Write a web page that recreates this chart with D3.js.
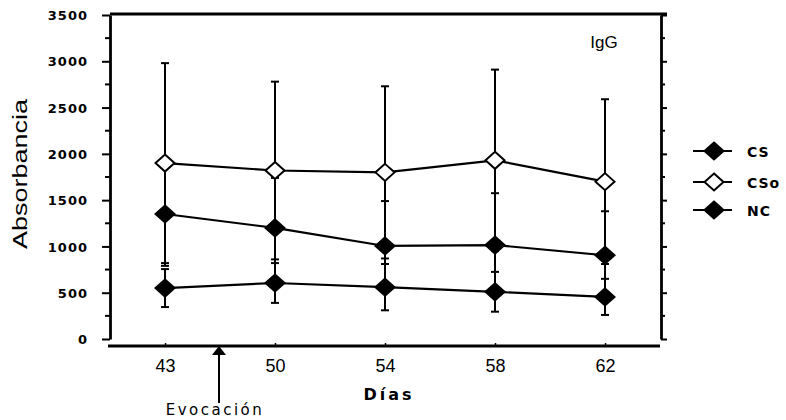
<!DOCTYPE html>
<html>
<head>
<meta charset="utf-8">
<script src="https://cdn.jsdelivr.net/npm/d3@7/dist/d3.min.js"></script>
<style>
  body { margin: 0; background: #fff; }
  svg { display: block; }
</style>
</head>
<body>
<svg id="chart" width="786" height="420"></svg>
<script>
const days = ['43', '50', '54', '58', '62'];
const yTicks = [0, 500, 1000, 1500, 2000, 2500, 3000, 3500];
const yMinor = [250, 750, 1250, 1750, 2250, 2750, 3250];

const csMean = [1350, 1200, 1005, 1015, 905];
const csSd = [560, 540, 485, 560, 475];
const csoMean = [1900, 1820, 1800, 1930, 1700];
const csoSd = [1080, 960, 930, 980, 890];
const ncMean = [550, 605, 560, 510, 455];
const ncSd = [205, 215, 250, 215, 195];

const seriesNames = ['CS', 'CSo', 'NC'];
const seriesFill = ['#000', '#fff', '#000'];

const series = [
  { name: seriesNames[0], mean: csMean, sd: csSd, fill: seriesFill[0] },
  { name: seriesNames[1], mean: csoMean, sd: csoSd, fill: seriesFill[1] },
  { name: seriesNames[2], mean: ncMean, sd: ncSd, fill: seriesFill[2] },
];

const diamond = 'M0,-8.5L9.5,0L0,8.5L-9.5,0Z';

let drawChart = (svg) => {
  const x = d3.scalePoint()
    .domain(days)
    .range([165, 605]);

  const y = d3.scaleLinear()
    .domain([0, 3500])
    .range([339, 15]);

  // top border line
  svg.append('line')
      .attr('stroke', '#000')
      .attr('stroke-width', 2.8)
      .attr('x1', 110).attr('x2', 667)
      .attr('y1', 14).attr('y2', 14);

  // left axis
  const left = svg.append('g')
      .attr('transform', 'translate(110,0)')
      .call(d3.axisLeft(y)
        .tickValues(yTicks)
        .tickSize(8)
        .tickSizeOuter(0)
        .tickFormat(d3.format('d')));
  left.select('.domain').attr('stroke-width', 2.8);
  left.selectAll('.tick line').attr('stroke-width', 2);
  left.selectAll('.tick text')
      .attr('x', -22)
      .attr('dy', '0.36em')
      .style('font-family', '"DejaVu Sans"')
      .style('font-weight', 'bold')
      .style('font-size', '13px')
      .style('letter-spacing', '1px');

  left.selectAll('.minor')
    .data(yMinor)
    .join('line')
      .attr('class', 'minor')
      .attr('stroke', '#000')
      .attr('stroke-width', 2)
      .attr('x1', -5).attr('x2', 0)
      .attr('y1', d => y(d)).attr('y2', d => y(d));

  // right axis
  const right = svg.append('g')
      .attr('transform', 'translate(661,0)')
      .call(d3.axisRight(y).tickValues(yTicks).tickSize(6).tickSizeOuter(0).tickFormat(''));
  right.select('.domain').attr('stroke-width', 2.8);
  right.selectAll('.tick line').attr('stroke-width', 2);
  right.selectAll('.minor')
    .data(yMinor)
    .join('line')
      .attr('class', 'minor')
      .attr('stroke', '#000')
      .attr('stroke-width', 2)
      .attr('x1', 0).attr('x2', 4)
      .attr('y1', d => y(d)).attr('y2', d => y(d));

  // x axis
  const bottom = svg.append('g')
      .attr('transform', 'translate(0,346)')
      .call(d3.axisTop(x).tickSize(3).tickSizeOuter(0));
  bottom.select('.domain')
      .attr('d', 'M108,0H660')
      .attr('stroke-width', 2.8);
  bottom.selectAll('.tick line').attr('stroke-width', 1.5);
  bottom.selectAll('.tick text')
      .attr('y', 26)
      .attr('dy', 0)
      .style('font-family', '"Liberation Sans"')
      .style('font-size', '18px');

  svg.append('text')
      .attr('x', 389)
      .attr('y', 400)
      .attr('text-anchor', 'middle')
      .style('font', 'bold 16px "DejaVu Sans"')
      .style('letter-spacing', '3px')
      .text('Días');

  svg.append('text')
      .attr('transform', 'translate(27,174) rotate(-90)')
      .attr('text-anchor', 'middle')
      .style('font', '20px "Liberation Sans"')
      .attr('textLength', 150)
      .attr('lengthAdjust', 'spacingAndGlyphs')
      .text('Absorbancia');

  svg.append('text')
      .attr('x', 604)
      .attr('y', 48)
      .attr('text-anchor', 'middle')
      .style('font', '17px "Liberation Sans"')
      .text('IgG');

  // Evocación arrow
  const evoX = (x('43') + x('50')) / 2 - 1;
  svg.append('line')
      .attr('x1', evoX).attr('x2', evoX)
      .attr('y1', 350).attr('y2', 403)
      .attr('stroke', '#000')
      .attr('stroke-width', 2);
  svg.append('path')
      .attr('d', `M${evoX},346L${evoX + 7},355L${evoX - 7},355Z`)
      .attr('fill', '#000');
  svg.append('text')
      .attr('x', evoX - 4)
      .attr('y', 415)
      .attr('text-anchor', 'middle')
      .style('font', '15px "DejaVu Sans"')
      .style('letter-spacing', '2.5px')
      .text('Evocación');

  const plot = svg.append('g').attr('class', 'plot');

  // error bars
  series.forEach(s => {
    const g = plot.append('g')
        .attr('stroke', '#000')
        .attr('stroke-width', 2);
    const pts = days.map((d, i) => ({ d, lo: s.mean[i] - s.sd[i], hi: s.mean[i] + s.sd[i] }));
    g.selectAll('.bar')
      .data(pts)
      .join('line')
        .attr('x1', p => x(p.d)).attr('x2', p => x(p.d))
        .attr('y1', p => y(p.lo)).attr('y2', p => y(p.hi));
    g.selectAll('.capHi')
      .data(pts)
      .join('line')
        .attr('x1', p => x(p.d) - 4).attr('x2', p => x(p.d) + 4)
        .attr('y1', p => y(p.hi)).attr('y2', p => y(p.hi));
    g.selectAll('.capLo')
      .data(pts)
      .join('line')
        .attr('x1', p => x(p.d) - 4).attr('x2', p => x(p.d) + 4)
        .attr('y1', p => y(p.lo)).attr('y2', p => y(p.lo));
  });

  // lines
  const line = d3.line()
    .x((v, i) => x(days[i]))
    .y(v => y(v));
  series.forEach(s => {
    plot.append('path')
        .attr('d', line(s.mean))
        .attr('fill', 'none')
        .attr('stroke', '#000')
        .attr('stroke-width', 2.2);
  });

  // markers
  series.forEach(s => {
    plot.append('g')
      .selectAll('path')
      .data(s.mean)
      .join('path')
        .attr('d', diamond)
        .attr('transform', (v, i) => `translate(${x(days[i])},${y(v)})`)
        .attr('fill', s.fill)
        .attr('stroke', '#000')
        .attr('stroke-width', 2);
  });

  // legend
  const legend = svg.append('g')
    .selectAll('g')
    .data(series)
    .join('g')
      .attr('transform', (s, i) => `translate(714,${[151, 182, 210][i]})`);

  legend.append('line')
      .attr('x1', -21).attr('x2', 18)
      .attr('stroke', '#000')
      .attr('stroke-width', 2.2);
  legend.append('path')
      .attr('d', diamond)
      .attr('fill', s => s.fill)
      .attr('stroke', '#000')
      .attr('stroke-width', 2);
  legend.append('text')
      .attr('x', 33)
      .attr('y', 6)
      .style('font', 'bold 14px "DejaVu Sans"')
      .style('letter-spacing', '1px')
      .text(s => s.name);
};

drawChart(d3.select('#chart'));
</script>
</body>
</html>
